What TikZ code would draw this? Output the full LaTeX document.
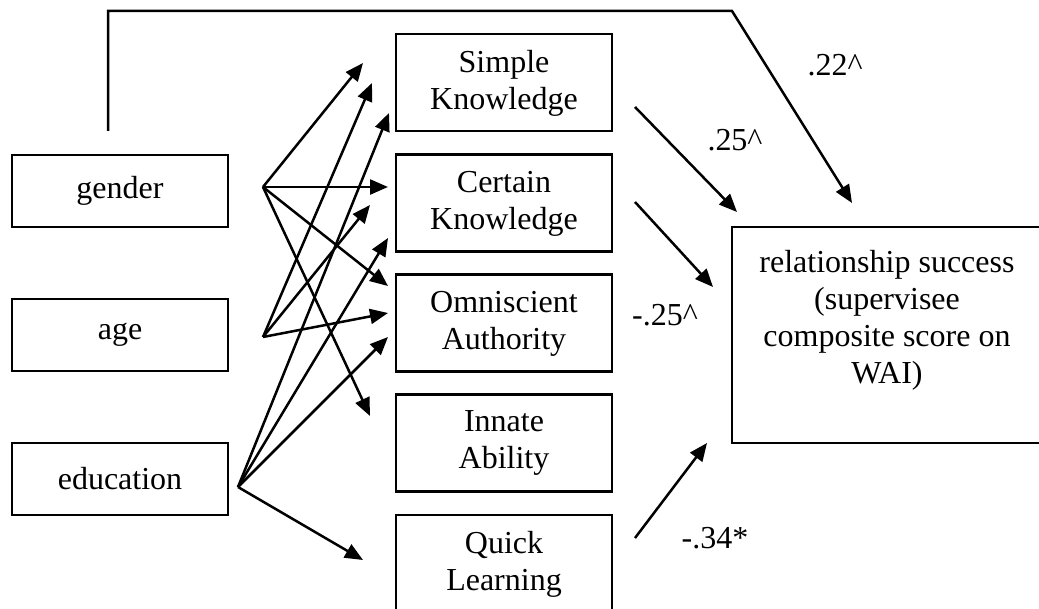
\documentclass[tikz,border=0pt]{standalone}
\usepackage{fontspec}
\setmainfont{Liberation Serif}
\usetikzlibrary{arrows.meta}
\begin{document}
\begin{tikzpicture}[x=0.5pt, y=-0.5pt,
  every node/.style={font=\fontsize{16}{18.5}\selectfont},
  varbox/.style={draw, line width=1.25pt, rectangle, minimum width=108pt, minimum height=36pt, inner sep=0pt},
  dimbox/.style={draw, line width=1.25pt, rectangle, minimum width=108pt, minimum height=48.5pt, inner sep=0pt, align=center, text depth=3pt},
  outbox/.style={draw, line width=1.25pt, rectangle, minimum width=155pt, minimum height=108pt, inner sep=0pt},
  path/.style={line width=1.25pt, -{Triangle[length=9pt, width=7.5pt]}},
  coef/.style={inner sep=0pt}]
\useasboundingbox (0,0) rectangle (1039,609);
\clip (0,0) rectangle (1039,609);

% predictors
\node[varbox] (gender) at (120,191) {gender};
\node[varbox] (age) at (120,335) {age};
\node[varbox] (edu) at (120,479) {education};

% epistemic belief dimensions
\node[dimbox] (sk) at (504,82.5) {Simple\\Knowledge};
\node[dimbox] (ck) at (504,203) {Certain\\Knowledge};
\node[dimbox] (oa) at (504,323) {Omniscient\\Authority};
\node[dimbox] (ia) at (504,443) {Innate\\Ability};
\node[dimbox] (ql) at (504,563.5) {Quick\\Learning};

% outcome
\node[outbox] (rel) at (887,335) {};
\node[align=center, inner sep=0pt] (reltext) at (887,320)
  {relationship success\\(supervisee\\composite score on\\WAI)};

% arrow origins and tips
\coordinate (g) at (263,187);
\coordinate (a) at (263,337);
\coordinate (e) at (238,487);

\coordinate (gsk) at (363,63);
\coordinate (gck) at (388,187);
\coordinate (goa) at (388,286);
\coordinate (gia) at (370,416);

\coordinate (ask) at (372,83);
\coordinate (ack) at (370,205);
\coordinate (aoa) at (388,313);

\coordinate (esk) at (389,113);
\coordinate (eck) at (388,238);
\coordinate (eoa) at (388,337);
\coordinate (eql) at (363,560);

\draw[path] (g) -- (gsk);
\draw[path] (g) -- (gck);
\draw[path] (g) -- (goa);
\draw[path] (g) -- (gia);

\draw[path] (a) -- (ask);
\draw[path] (a) -- (ack);
\draw[path] (a) -- (aoa);

\draw[path] (e) -- (esk);
\draw[path] (e) -- (eck);
\draw[path] (e) -- (eoa);
\draw[path] (e) -- (eql);

% direct path from gender over the top
\coordinate (gtop) at (108,131);
\coordinate (c1) at (108,11);
\coordinate (c2) at (732,11);
\coordinate (gtip) at (852,203);
\draw[path] (gtop) -- (c1) -- (c2) -- (gtip);

% paths to the outcome
\coordinate (sks) at (635,107);
\coordinate (skt) at (737,212);
\coordinate (cks) at (635,202);
\coordinate (ckt) at (713,287);
\coordinate (qls) at (635,538);
\coordinate (qlt) at (707,443);
\draw[path] (sks) -- (skt);
\draw[path] (cks) -- (ckt);
\draw[path] (qls) -- (qlt);

% coefficients
\node[coef] (c22) at (835,65) {.22\textasciicircum};
\node[coef] (c25) at (735,140) {.25\textasciicircum};
\node[coef] (cm25) at (665,315) {-.25\textasciicircum};
\node[coef] (cm34) at (715,538) {-.34*};
\end{tikzpicture}
\end{document}
